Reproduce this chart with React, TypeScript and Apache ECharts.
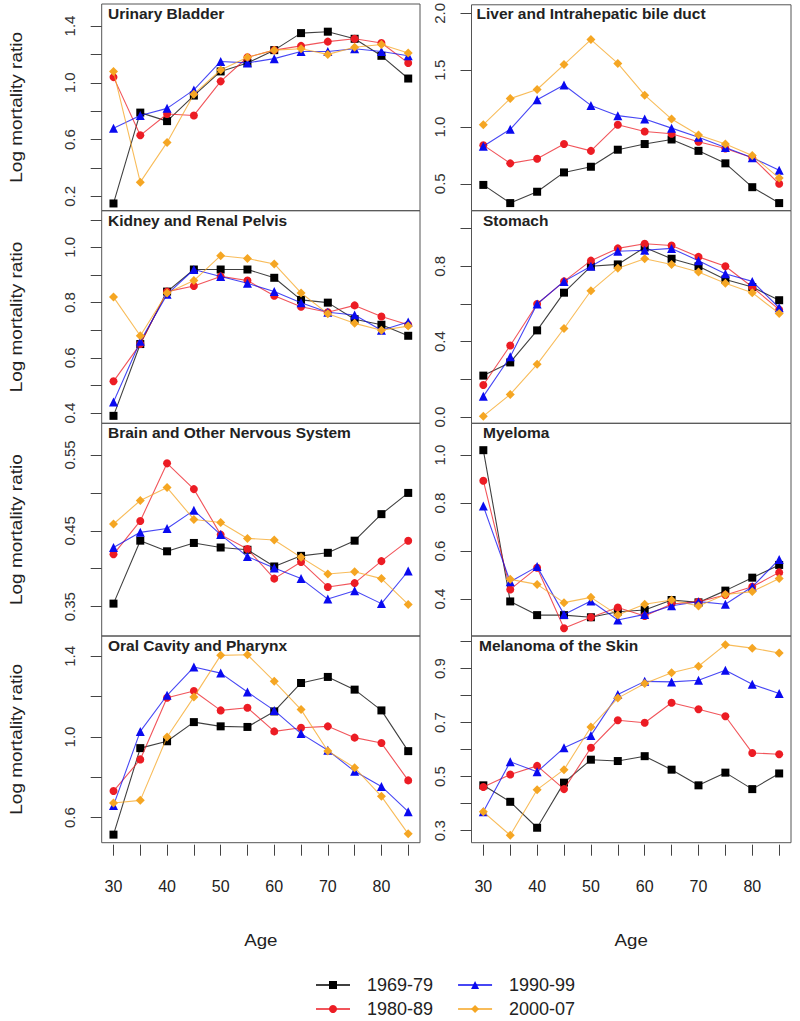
import React, { useEffect, useRef } from "react";
import * as echarts from "echarts";

const ages = [30, 35, 40, 45, 50, 55, 60, 65, 70, 75, 80, 85];
const periods = ["1969-79", "1980-89", "1990-99", "2000-07"];
const panelTitles = [
  "Urinary Bladder",
  "Liver and Intrahepatic bile duct",
  "Kidney and Renal Pelvis",
  "Stomach",
  "Brain and Other Nervous System",
  "Myeloma",
  "Oral Cavity and Pharynx",
  "Melanoma of the Skin",
];

// values per panel: [1969-79, 1980-89, 1990-99, 2000-07]
const urinaryBladder = [
  [0.15, 0.79, 0.73, 0.91, 1.08, 1.14, 1.23, 1.35, 1.36, 1.31, 1.19, 1.03],
  [1.04, 0.63, 0.78, 0.77, 1.01, 1.18, 1.23, 1.26, 1.29, 1.31, 1.28, 1.14],
  [0.68, 0.77, 0.82, 0.95, 1.15, 1.14, 1.17, 1.22, 1.22, 1.24, 1.22, 1.19],
  [1.08, 0.3, 0.58, 0.92, 1.09, 1.18, 1.23, 1.24, 1.2, 1.25, 1.27, 1.21],
];
const liver = [
  [0.49, 0.33, 0.43, 0.6, 0.65, 0.8, 0.85, 0.89, 0.79, 0.68, 0.47, 0.33],
  [0.84, 0.68, 0.72, 0.85, 0.79, 1.02, 0.96, 0.94, 0.87, 0.81, 0.73, 0.5],
  [0.83, 0.98, 1.24, 1.37, 1.19, 1.1, 1.07, 0.99, 0.91, 0.82, 0.73, 0.62],
  [1.02, 1.25, 1.33, 1.55, 1.77, 1.56, 1.28, 1.07, 0.93, 0.85, 0.75, 0.55],
];
const kidney = [
  [0.39, 0.65, 0.84, 0.92, 0.92, 0.92, 0.89, 0.81, 0.8, 0.74, 0.72, 0.68],
  [0.515, 0.65, 0.84, 0.86, 0.895, 0.88, 0.825, 0.785, 0.765, 0.79, 0.75, 0.72],
  [0.44, 0.66, 0.83, 0.92, 0.895, 0.87, 0.84, 0.8, 0.765, 0.755, 0.7, 0.73],
  [0.82, 0.68, 0.835, 0.88, 0.97, 0.96, 0.94, 0.835, 0.76, 0.725, 0.7, 0.715],
];
const stomach = [
  [0.22, 0.29, 0.46, 0.66, 0.8, 0.81, 0.9, 0.84, 0.8, 0.73, 0.69, 0.62],
  [0.17, 0.38, 0.6, 0.72, 0.83, 0.895, 0.92, 0.91, 0.85, 0.8, 0.69, 0.57],
  [0.11, 0.32, 0.6, 0.72, 0.8, 0.88, 0.885, 0.895, 0.83, 0.76, 0.72, 0.58],
  [0.005, 0.12, 0.28, 0.47, 0.67, 0.79, 0.84, 0.81, 0.77, 0.71, 0.66, 0.55],
];
const brain = [
  [0.354, 0.437, 0.423, 0.434, 0.428, 0.425, 0.403, 0.417, 0.421, 0.437, 0.472, 0.5],
  [0.419, 0.463, 0.539, 0.505, 0.445, 0.426, 0.387, 0.409, 0.376, 0.381, 0.41, 0.437],
  [0.428, 0.448, 0.453, 0.477, 0.445, 0.416, 0.401, 0.387, 0.36, 0.371, 0.354, 0.397],
  [0.459, 0.49, 0.507, 0.465, 0.461, 0.44, 0.438, 0.415, 0.393, 0.396, 0.387, 0.353],
];
const myeloma = [
  [1.02, 0.39, 0.333, 0.333, 0.324, 0.347, 0.354, 0.396, 0.386, 0.435, 0.489, 0.542],
  [0.893, 0.44, 0.53, 0.278, 0.324, 0.365, 0.329, 0.379, 0.389, 0.417, 0.451, 0.511],
  [0.787, 0.472, 0.535, 0.336, 0.392, 0.3125, 0.336, 0.372, 0.389, 0.378, 0.451, 0.565],
  [null, 0.482, 0.461, 0.385, 0.407, 0.333, 0.378, 0.396, 0.371, 0.419, 0.431, 0.486],
];
const oralCavity = [
  [0.516, 0.945, 0.979, 1.074, 1.053, 1.05, 1.127, 1.268, 1.298, 1.235, 1.132, 0.93],
  [0.732, 0.889, 1.195, 1.228, 1.132, 1.145, 1.028, 1.046, 1.053, 0.997, 0.97, 0.785],
  [0.661, 1.028, 1.207, 1.347, 1.317, 1.223, 1.132, 1.017, 0.934, 0.83, 0.755, 0.63],
  [0.673, 0.686, 1.0, 1.198, 1.405, 1.408, 1.276, 1.136, 0.931, 0.848, 0.706, 0.52],
];
const melanoma = [
  [0.468, 0.407, 0.311, 0.478, 0.563, 0.558, 0.576, 0.526, 0.468, 0.515, 0.454, 0.512],
  [0.462, 0.508, 0.54, 0.454, 0.607, 0.709, 0.7, 0.774, 0.75, 0.724, 0.588, 0.583],
  [0.37, 0.555, 0.518, 0.607, 0.653, 0.804, 0.853, 0.851, 0.857, 0.894, 0.842, 0.808],
  [0.37, 0.283, 0.452, 0.526, 0.684, 0.791, 0.845, 0.885, 0.909, 0.989, 0.976, 0.958],
];
const panelData = [urinaryBladder, liver, kidney, stomach, brain, myeloma, oralCavity, melanoma];

// axis ranges and ticks
const yMin = [0.099, 0.263, 0.363, -0.033, 0.3113, 0.246, 0.476, 0.2556];
const yMax = [1.555, 2.076, 1.133, 1.095, 0.5918, 1.132, 1.501, 1.021];
const yTicks = [
  [0.2, 0.4, 0.6, 0.8, 1.0, 1.2, 1.4],
  [0.5, 1.0, 1.5, 2.0],
  [0.4, 0.5, 0.6, 0.7, 0.8, 0.9, 1.0, 1.1],
  [0.0, 0.2, 0.4, 0.6, 0.8, 1.0],
  [0.35, 0.4, 0.45, 0.5, 0.55],
  [0.4, 0.6, 0.8, 1.0],
  [0.6, 0.8, 1.0, 1.2, 1.4],
  [0.3, 0.4, 0.5, 0.6, 0.7, 0.8, 0.9, 1.0],
];
const yLabels = [
  [0.2, 0.6, 1.0, 1.4],
  [0.5, 1.0, 1.5, 2.0],
  [0.4, 0.6, 0.8, 1.0],
  [0.0, 0.4, 0.8],
  [0.35, 0.45, 0.55],
  [0.4, 0.6, 0.8, 1.0],
  [0.6, 1.0, 1.4],
  [0.3, 0.5, 0.7, 0.9],
];
const yDecimals = [1, 1, 1, 1, 2, 1, 1, 1];
const xMin = 27.8;
const xMax = 87.2;
const xTicks = [30, 35, 40, 45, 50, 55, 60, 65, 70, 75, 80, 85];
const xLabels = [30, 40, 50, 60, 70, 80];

const colors = ["#000000", "#ec1c24", "#0a0af0", "#f5a623"];
const symbols = ["rect", "circle", "triangle", "diamond"];
const symbolSizes = [8, 8, 9, 9];

const colLeft = [101.7, 471.5];
const colWidth = [318.3, 319.5];
const rowTop = [4, 210.7, 423.3, 636];
const rowHeight = [206.7, 212.6, 212.7, 206.7];
const titleX = [108, 476.5, 108, 483, 108, 483, 108, 479];

const FONT = "'Liberation Sans', Arial, Helvetica, sans-serif";

export default function App() {
  const ref = useRef<HTMLDivElement>(null);
  useEffect(() => {
    if (!ref.current) return;
    const chart = echarts.init(ref.current, undefined, { renderer: "svg" });
    const grids: any[] = [];
    const xAxes: any[] = [];
    const yAxes: any[] = [];
    const series: any[] = [];
    const graphics: any[] = [];
    for (let p = 0; p < 8; p++) {
      const col = p % 2;
      const row = Math.floor(p / 2);
      const isBottom = row === 3;
      grids.push({
        left: colLeft[col],
        top: rowTop[row],
        width: colWidth[col],
        height: rowHeight[row],
        show: true,
        borderColor: "#555",
        borderWidth: 1,
        backgroundColor: "transparent",
        containLabel: false,
      });
      xAxes.push({
        gridIndex: p,
        type: "value",
        min: xMin,
        max: xMax,
        show: isBottom,
        offset: 2,
        axisLine: { show: false },
        splitLine: { show: false },
        axisTick: {
          show: isBottom,
          length: 11,
          customValues: xTicks,
          lineStyle: { color: "#444", width: 1 },
        },
        axisLabel: {
          show: isBottom,
          customValues: xLabels,
          margin: 34,
          fontSize: 16,
          color: "#222",
          fontFamily: FONT,
        },
      });
      const dec = yDecimals[p];
      yAxes.push({
        gridIndex: p,
        type: "value",
        min: yMin[p],
        max: yMax[p],
        axisLine: { show: false },
        splitLine: { show: false },
        axisTick: {
          show: true,
          length: 11,
          customValues: yTicks[p],
          lineStyle: { color: "#444", width: 1 },
        },
        axisLabel: {
          customValues: yLabels[p],
          rotate: 90,
          margin: 25,
          fontSize: 15,
          color: "#333",
          fontFamily: FONT,
          formatter: (v: number) => Number(v).toFixed(dec),
        },
      });
      const data = panelData[p];
      for (let k = 0; k < 4; k++) {
        series.push({
          type: "line",
          name: periods[k],
          xAxisIndex: p,
          yAxisIndex: p,
          data: ages.map((a, i) => [a, data[k][i]]),
          symbol: symbols[k],
          symbolSize: symbolSizes[k],
          showAllSymbol: true,
          connectNulls: false,
          clip: true,
          itemStyle: { color: colors[k] },
          lineStyle: { color: colors[k], width: 1.1, opacity: 0.75 },
          emphasis: { disabled: true },
          z: 2 + k,
        });
      }
      graphics.push({
        type: "text",
        x: titleX[p],
        y: rowTop[row] + 9.5,
        style: {
          text: panelTitles[p],
          font: `bold 15.5px ${FONT}`,
          fill: "#222",
          textAlign: "left",
          textVerticalAlign: "middle",
          align: "left",
          verticalAlign: "middle",
        },
      });
      if (col === 0) {
        graphics.push({
          type: "text",
          x: 16,
          y: rowTop[row] + rowHeight[row] / 2,
          rotation: Math.PI / 2,
          scaleX: 1.15,
          style: {
            text: "Log mortality ratio",
            font: `16.5px ${FONT}`,
            fill: "#222",
            textAlign: "center",
            textVerticalAlign: "middle",
            align: "center",
            verticalAlign: "middle",
          },
        });
      }
    }
    for (let col = 0; col < 2; col++) {
      graphics.push({
        type: "text",
        x: colLeft[col] + colWidth[col] / 2,
        y: 940,
        scaleX: 1.1,
        style: {
          text: "Age",
          font: `17px ${FONT}`,
          fill: "#222",
          textAlign: "center",
          textVerticalAlign: "middle",
          align: "center",
          verticalAlign: "middle",
        },
      });
    }
    const legendCommon = {
      left: 310,
      orient: "horizontal",
      itemWidth: 34,
      itemHeight: 10,
      itemGap: 24,
      selectedMode: false,
      textStyle: {
        fontSize: 18,
        color: "#222",
        fontFamily: FONT,
        padding: [0, 0, 0, 12],
      },
    };
    chart.setOption({
      animation: false,
      textStyle: { fontFamily: FONT },
      grid: grids,
      xAxis: xAxes,
      yAxis: yAxes,
      series,
      legend: [
        { ...legendCommon, top: 971, data: [periods[0], periods[2]] },
        { ...legendCommon, top: 995, data: [periods[1], periods[3]] },
      ],
      graphic: graphics,
    });
    return () => chart.dispose();
  }, []);
  return (
    <div
      ref={ref}
      style={{ position: "absolute", left: 0, top: 0, width: 800, height: 1021, background: "#fff" }}
    />
  );
}
